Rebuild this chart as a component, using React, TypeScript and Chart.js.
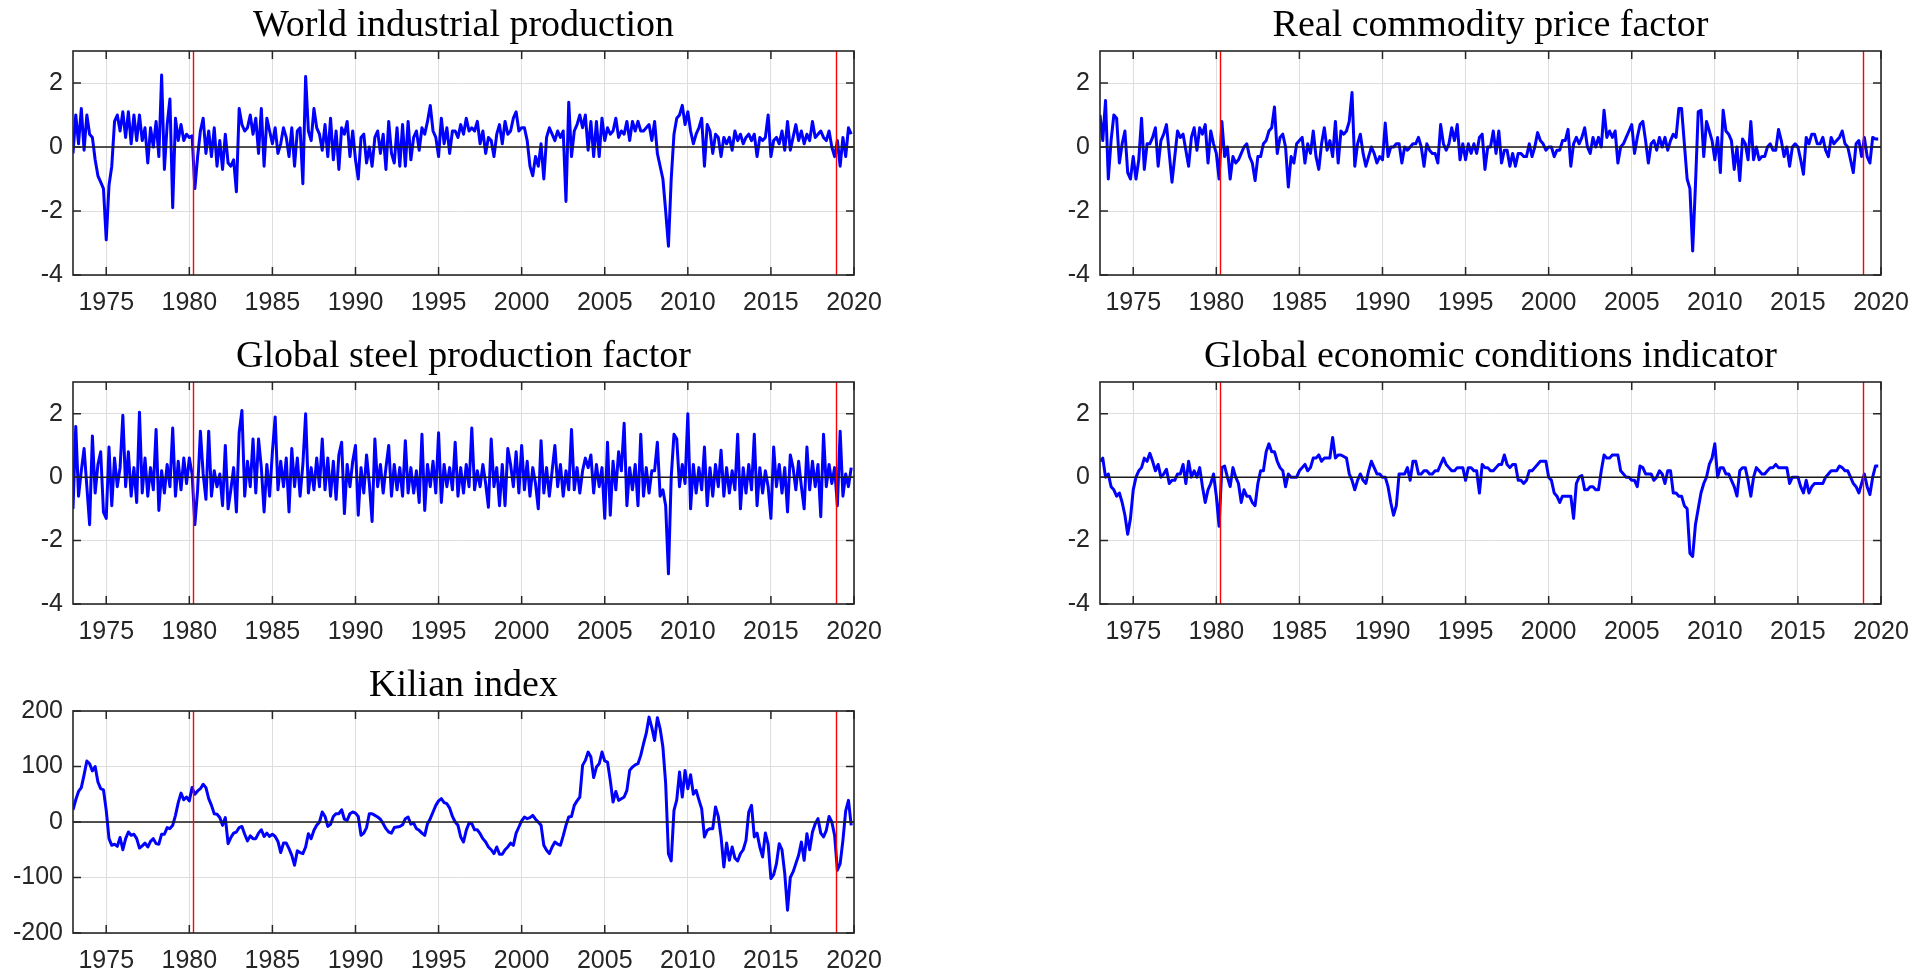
import React, { useEffect, useRef } from 'react';
import { Chart, registerables } from 'chart.js';

Chart.register(...registerables);

// ---- time axis: bimonthly observations starting January 1973 ----
const START_YEAR = 1973;
const POINTS_PER_YEAR = 6;
const X_MIN = 1973;
const X_MAX = 2020;
const X_TICKS = [1975, 1980, 1985, 1990, 1995, 2000, 2005, 2010, 2015, 2020];
const FACTOR_Y_TICKS = [-4, -2, 0, 2];
const KILIAN_Y_TICKS = [-200, -100, 0, 100, 200];
const RED_LINES = [1980.25, 2018.92];

const TITLES = [
  'World industrial production',
  'Real commodity price factor',
  'Global steel production factor',
  'Global economic conditions indicator',
  'Kilian index',
];

const WORLD_IP = [
  -0.2, 1.0, 0.1, 1.2, -0.1, 1.0, // 1973
  0.4, 0.3, -0.4, -0.9, -1.1, -1.3, // 1974
  -2.9, -1.2, -0.6, 0.8, 1.0, 0.5, // 1975
  1.1, 0.3, 1.1, 0.1, 1.0, 0.2, // 1976
  1.0, 0.2, 0.6, -0.5, 0.6, 0.0, // 1977
  0.8, -0.3, 2.25, -0.7, 0.7, 1.5, // 1978
  -1.9, 0.9, 0.2, 0.7, 0.2, 0.4, // 1979
  0.3, 0.35, -1.3, -0.3, 0.5, 0.9, // 1980
  -0.2, 0.5, -0.3, 0.6, -0.6, 0.2, // 1981
  -0.7, 0.4, -0.5, -0.6, -0.4, -1.4, // 1982
  1.2, 0.7, 0.5, 0.6, 1.0, 0.4, // 1983
  0.9, -0.2, 1.2, -0.6, 0.9, 0.5, // 1984
  0.1, 0.6, -0.2, 0.1, 0.6, 0.3, // 1985
  -0.3, 0.6, -0.6, 0.5, 0.6, -1.15, // 1986
  2.2, 0.5, 0.2, 1.2, 0.6, 0.4, // 1987
  -0.1, 0.7, -0.3, 0.9, -0.4, 0.5, // 1988
  -0.7, 0.6, 0.4, 0.8, -0.3, 0.5, // 1989
  -0.4, -1.0, 0.3, 0.4, -0.5, 0.0, // 1990
  -0.6, 0.3, 0.5, -0.2, 0.4, -0.7, // 1991
  0.8, -0.2, -0.5, 0.6, -0.6, 0.7, // 1992
  -0.6, 0.8, -0.4, 0.3, 0.5, -0.1, // 1993
  0.6, 0.4, 0.8, 1.3, 0.5, 0.3, // 1994
  -0.3, 0.9, 0.1, 0.6, -0.2, 0.5, // 1995
  0.5, 0.3, 0.7, 0.4, 0.9, 0.5, // 1996
  0.6, 0.5, 0.8, 0.1, 0.5, -0.2, // 1997
  0.3, 0.2, -0.3, 0.4, 0.7, 0.1, // 1998
  0.8, 0.4, 0.5, 0.9, 1.1, 0.5, // 1999
  0.6, 0.6, 0.2, -0.6, -0.9, -0.3, // 2000
  -0.6, 0.1, -1.0, 0.3, 0.6, 0.4, // 2001
  0.2, 0.5, 0.3, 0.5, -1.7, 1.4, // 2002
  -0.3, 0.5, 0.7, 1.0, 0.6, 1.0, // 2003
  -0.1, 0.8, -0.3, 0.8, -0.3, 0.9, // 2004
  0.2, 0.6, 0.4, 0.5, 0.9, 0.3, // 2005
  0.5, 0.4, 0.8, 0.2, 0.8, 0.5, // 2006
  0.8, 0.5, 0.5, 0.6, 0.7, 0.2, // 2007
  0.8, -0.2, -0.6, -1.0, -2.0, -3.1, // 2008
  -1.0, 0.4, 0.9, 1.0, 1.3, 0.7, // 2009
  1.1, 0.5, 0.1, 0.4, 0.6, 0.9, // 2010
  -0.6, 0.7, 0.5, -0.2, 0.4, 0.3, // 2011
  -0.3, 0.3, 0.1, 0.3, -0.1, 0.5, // 2012
  0.2, 0.4, 0.1, 0.3, 0.4, 0.2, // 2013
  0.4, -0.3, 0.3, 0.2, 0.3, 1.0, // 2014
  -0.3, 0.2, 0.3, 0.1, 0.5, -0.1, // 2015
  0.8, -0.1, 0.3, 0.7, 0.2, 0.5, // 2016
  0.1, 0.4, 0.2, 0.8, 0.3, 0.4, // 2017
  0.5, 0.3, 0.2, 0.5, 0.0, -0.3, // 2018
  0.2, -0.6, 0.3, -0.3, 0.6, 0.4, // 2019
];

const COMMODITY = [
  1.0, 0.2, 1.45, -1.0, 0.2, 1.0, // 1973
  0.9, -0.5, 0.1, 0.5, -0.8, -1.0, // 1974
  -0.3, -1.0, -0.4, 0.9, -0.7, 0.1, // 1975
  0.1, 0.3, 0.6, -0.6, 0.2, 0.4, // 1976
  0.7, -0.2, -1.1, -0.3, 0.5, 0.3, // 1977
  0.4, -0.1, -0.6, 0.3, 0.6, -0.1, // 1978
  0.6, 0.4, 0.7, -0.5, 0.5, 0.1, // 1979
  -0.2, -1.0, 0.8, -0.3, 0.0, -1.0, // 1980
  -0.3, -0.5, -0.4, -0.2, 0.0, 0.1, // 1981
  -0.3, -0.5, -1.05, -0.3, -0.3, 0.1, // 1982
  0.2, 0.5, 0.6, 1.25, -0.2, 0.3, // 1983
  0.4, 0.0, -1.25, -0.3, -0.5, 0.1, // 1984
  0.2, 0.3, -0.5, 0.1, -0.2, 0.5, // 1985
  -0.3, -0.7, 0.1, 0.6, -0.1, 0.2, // 1986
  -0.3, 0.8, -0.5, 0.5, 0.4, 0.5, // 1987
  0.8, 1.7, -0.6, 0.1, 0.4, -0.2, // 1988
  -0.6, -0.3, 0.0, -0.2, -0.5, -0.3, // 1989
  -0.4, 0.75, -0.3, 0.0, 0.0, 0.1, // 1990
  0.1, -0.5, 0.0, -0.1, 0.0, 0.1, // 1991
  0.1, 0.3, 0.0, -0.6, 0.1, -0.1, // 1992
  -0.2, -0.2, -0.5, 0.7, 0.1, -0.1, // 1993
  0.1, 0.6, 0.2, 0.7, -0.4, 0.1, // 1994
  -0.4, 0.1, -0.2, 0.1, -0.2, 0.3, // 1995
  0.4, -0.7, 0.0, 0.0, 0.5, -0.2, // 1996
  0.5, -0.5, -0.1, -0.1, -0.6, -0.2, // 1997
  -0.6, -0.2, -0.2, -0.3, -0.3, 0.1, // 1998
  -0.3, 0.0, 0.45, 0.2, 0.1, -0.1, // 1999
  0.0, 0.0, -0.3, -0.1, -0.1, 0.2, // 2000
  0.2, 0.55, -0.6, 0.1, 0.3, 0.1, // 2001
  0.3, 0.6, 0.0, -0.2, 0.3, 0.0, // 2002
  0.3, 0.0, 1.15, 0.3, 0.5, 0.3, // 2003
  0.5, -0.5, 0.0, 0.1, 0.3, 0.5, // 2004
  0.7, -0.2, 0.3, 0.7, 0.8, 0.2, // 2005
  -0.5, 0.1, 0.2, -0.1, 0.3, 0.0, // 2006
  0.3, -0.1, 0.2, 0.4, 0.3, 1.2, // 2007
  1.2, 0.1, -1.0, -1.3, -3.25, -1.2, // 2008
  1.1, 1.15, -0.3, 0.8, 0.5, 0.2, // 2009
  -0.4, 0.3, -0.8, 1.15, 0.5, 0.4, // 2010
  0.2, -0.7, 0.0, -1.05, 0.25, 0.1, // 2011
  -0.4, 0.8, -0.4, 0.0, -0.4, -0.3, // 2012
  -0.3, 0.0, 0.1, -0.1, -0.1, 0.55, // 2013
  0.2, -0.3, 0.0, -0.6, 0.0, 0.1, // 2014
  0.0, -0.4, -0.85, 0.3, 0.1, 0.4, // 2015
  0.4, 0.1, 0.1, 0.3, -0.1, -0.3, // 2016
  0.3, 0.1, 0.2, 0.3, 0.5, 0.1, // 2017
  0.0, -0.4, -0.8, 0.1, 0.2, -0.3, // 2018
  0.3, -0.3, -0.5, 0.3, 0.25, 0.25, // 2019
];

const STEEL = [
  -1.0, 1.6, -0.6, 0.2, 0.9, -0.3, // 1973
  -1.5, 1.3, -0.5, 0.4, 0.8, -1.1, // 1974
  -1.3, 0.95, -0.9, 0.6, -0.3, 0.3, // 1975
  1.95, -0.3, 0.8, -0.6, 0.3, -0.8, // 1976
  2.05, -0.5, 0.6, -0.6, 0.3, -0.4, // 1977
  1.5, -1.05, 0.2, -0.5, 0.4, -0.3, // 1978
  1.55, -0.6, 0.5, -0.4, 0.6, -0.2, // 1979
  0.6, 0.1, -1.5, -0.4, 1.45, 0.1, // 1980
  -0.7, 1.45, -0.6, 0.2, -0.3, 0.1, // 1981
  -0.9, 1.0, -1.0, -0.4, 0.3, -1.1, // 1982
  1.4, 2.1, -0.6, 0.5, -0.3, 1.2, // 1983
  -0.5, 1.2, 0.3, -1.1, 0.4, -0.6, // 1984
  0.8, 1.9, -0.4, 0.5, -0.3, 0.6, // 1985
  -1.1, 0.9, -0.3, 0.6, -0.6, 0.4, // 1986
  2.0, -0.5, 0.3, -0.4, 0.6, -0.3, // 1987
  1.2, -0.4, 0.6, -0.6, 0.5, -0.7, // 1988
  0.7, 1.1, -1.15, 0.4, -0.3, 0.5, // 1989
  1.0, -1.2, 0.3, -0.5, 0.7, -0.2, // 1990
  -1.4, 1.2, -0.3, 0.4, -0.5, 0.3, // 1991
  1.0, -0.6, 0.4, -0.4, 0.3, -0.6, // 1992
  1.15, -0.5, 0.3, -0.5, 0.2, -0.8, // 1993
  1.35, -1.05, 0.4, -0.3, 0.5, -0.5, // 1994
  1.4, -0.8, 0.4, -0.3, 0.3, -0.4, // 1995
  1.1, -0.6, 0.3, -0.5, 0.4, -0.3, // 1996
  1.55, -0.4, 0.2, -0.3, 0.4, -0.2, // 1997
  -0.95, 1.2, -0.3, 0.3, -0.9, 0.4, // 1998
  -0.9, 0.9, 0.4, -0.3, 0.8, -0.5, // 1999
  1.0, -0.4, 0.5, -0.6, 0.3, -0.2, // 2000
  -1.0, 1.15, -0.5, 0.3, -0.6, 0.2, // 2001
  1.0, -0.3, 0.4, -0.6, 0.2, -0.4, // 2002
  1.5, -0.4, 0.3, -0.5, 0.2, 0.6, // 2003
  0.3, 0.7, -0.5, 0.4, -0.3, 0.3, // 2004
  -1.3, 1.1, -1.2, 0.5, -0.4, 0.8, // 2005
  0.2, 1.7, -0.9, 0.3, -0.4, 0.4, // 2006
  -0.9, 1.35, -0.6, 0.3, -0.5, 0.2, // 2007
  0.2, 1.1, -0.6, -0.4, -0.9, -3.05, // 2008
  0.0, 1.35, 1.2, -0.3, 0.4, -0.2, // 2009
  2.0, -1.0, 0.4, -0.5, 0.3, -0.4, // 2010
  0.95, -0.9, 0.3, -0.6, 0.4, -0.3, // 2011
  0.85, -0.6, 0.3, -0.5, 0.2, -0.4, // 2012
  1.35, -1.0, 0.3, -0.5, 0.4, -0.4, // 2013
  1.35, -0.9, 0.3, -0.5, 0.2, -0.3, // 2014
  -1.3, 0.95, -0.3, 0.4, -0.5, 0.3, // 2015
  -1.1, 0.7, 0.3, -0.4, 0.5, -0.3, // 2016
  -1.0, 0.95, -0.4, 0.5, -0.3, 0.4, // 2017
  -1.25, 1.35, -0.3, 0.4, -0.2, 0.3, // 2018
  -0.9, 1.45, -0.6, 0.1, -0.3, 0.3, // 2019
];

const GECON = [
  0.5, 0.6, 0.0, 0.1, -0.3, -0.4, // 1973
  -0.6, -0.5, -0.8, -1.2, -1.8, -1.3, // 1974
  -0.4, 0.0, 0.2, 0.3, 0.6, 0.5, // 1975
  0.75, 0.5, 0.2, 0.4, 0.0, 0.1, // 1976
  0.25, -0.2, -0.1, -0.1, 0.1, 0.1, // 1977
  0.4, -0.2, 0.5, 0.0, 0.2, 0.0, // 1978
  0.3, -0.3, -0.8, -0.4, -0.2, 0.1, // 1979
  -0.6, -1.55, 0.3, 0.35, 0.0, -0.3, // 1980
  0.3, 0.0, -0.2, -0.8, -0.4, -0.6, // 1981
  -0.6, -0.8, -0.9, -0.2, 0.2, 0.2, // 1982
  0.8, 1.05, 0.8, 0.8, 0.5, 0.3, // 1983
  0.2, -0.3, 0.1, 0.0, 0.0, 0.0, // 1984
  0.2, 0.3, 0.4, 0.2, 0.3, 0.6, // 1985
  0.6, 0.7, 0.5, 0.6, 0.6, 0.6, // 1986
  1.25, 0.6, 0.7, 0.7, 0.65, 0.6, // 1987
  0.1, -0.1, -0.4, -0.1, 0.1, -0.1, // 1988
  -0.2, 0.2, 0.5, 0.3, 0.1, 0.1, // 1989
  0.0, 0.0, -0.3, -0.8, -1.2, -0.9, // 1990
  0.1, 0.1, 0.1, 0.3, -0.1, 0.5, // 1991
  0.5, 0.1, 0.1, 0.2, 0.2, 0.1, // 1992
  0.1, 0.2, 0.2, 0.4, 0.6, 0.4, // 1993
  0.3, 0.2, 0.2, 0.3, 0.3, 0.3, // 1994
  -0.1, 0.3, 0.3, 0.2, 0.2, -0.5, // 1995
  0.4, 0.3, 0.3, 0.2, 0.2, 0.3, // 1996
  0.4, 0.4, 0.7, 0.4, 0.3, 0.4, // 1997
  0.4, -0.1, -0.1, -0.2, -0.1, 0.2, // 1998
  0.2, 0.3, 0.4, 0.5, 0.5, 0.5, // 1999
  0.0, -0.1, -0.5, -0.6, -0.8, -0.6, // 2000
  -0.6, -0.6, -0.6, -1.3, -0.2, 0.0, // 2001
  0.05, -0.4, -0.4, -0.3, -0.3, -0.4, // 2002
  -0.4, 0.2, 0.7, 0.6, 0.6, 0.7, // 2003
  0.7, 0.7, 0.2, 0.1, 0.0, 0.0, // 2004
  -0.1, -0.1, -0.3, 0.35, 0.3, 0.1, // 2005
  0.1, 0.1, -0.1, 0.0, 0.2, 0.1, // 2006
  -0.2, 0.2, 0.2, -0.5, -0.5, -0.6, // 2007
  -0.6, -0.9, -1.0, -2.4, -2.5, -1.5, // 2008
  -1.0, -0.5, -0.2, 0.0, 0.4, 0.6, // 2009
  1.05, 0.0, 0.3, 0.3, 0.1, 0.1, // 2010
  -0.1, -0.3, -0.6, 0.2, 0.3, 0.3, // 2011
  -0.1, -0.6, 0.0, 0.3, 0.2, 0.1, // 2012
  0.1, 0.2, 0.3, 0.3, 0.4, 0.3, // 2013
  0.3, 0.3, 0.3, -0.2, 0.0, 0.0, // 2014
  0.0, -0.3, -0.5, -0.1, -0.5, -0.3, // 2015
  -0.2, -0.2, -0.2, -0.2, 0.0, 0.1, // 2016
  0.2, 0.2, 0.2, 0.35, 0.3, 0.2, // 2017
  0.2, 0.0, -0.2, -0.3, -0.5, -0.2, // 2018
  0.1, -0.3, -0.55, 0.0, 0.35, 0.35, // 2019
];

const KILIAN = [
  22, 40, 55, 62, 85, 110, // 1973
  105, 92, 100, 72, 60, 58, // 1974
  21, -30, -42, -40, -44, -28, // 1975
  -50, -30, -18, -24, -22, -30, // 1976
  -47, -43, -38, -45, -35, -30, // 1977
  -39, -40, -22, -22, -10, -12, // 1978
  -6, 12, 35, 52, 40, 45, // 1979
  38, 62, 50, 56, 60, 68, // 1980
  62, 42, 30, 15, 14, 8, // 1981
  -6, 8, -39, -28, -20, -18, // 1982
  -10, -8, -22, -34, -25, -30, // 1983
  -30, -20, -14, -26, -20, -26, // 1984
  -22, -26, -35, -55, -38, -38, // 1985
  -48, -60, -78, -52, -55, -57, // 1986
  -45, -21, -30, -15, -6, 0, // 1987
  18, 10, -8, -4, 10, 15, // 1988
  15, 22, 5, 3, 15, 18, // 1989
  16, 10, -24, -20, -10, 15, // 1990
  15, 12, 9, 5, -3, -12, // 1991
  -18, -20, -10, -9, -8, -5, // 1992
  6, 9, -4, -2, -12, -15, // 1993
  -20, -24, -3, 6, 18, 30, // 1994
  38, 42, 35, 33, 25, 10, // 1995
  0, -6, -27, -36, -15, -2, // 1996
  -3, -14, -14, -21, -30, -36, // 1997
  -45, -50, -57, -45, -58, -58, // 1998
  -50, -45, -38, -42, -20, -9, // 1999
  2, 9, 6, 8, 12, 5, // 2000
  0, -6, -42, -51, -57, -45, // 2001
  -36, -40, -42, -25, -6, 9, // 2002
  10, 30, 38, 45, 102, 111, // 2003
  126, 117, 80, 99, 105, 126, // 2004
  110, 108, 75, 36, 55, 39, // 2005
  42, 45, 57, 93, 99, 103, // 2006
  105, 120, 141, 160, 189, 170, // 2007
  147, 188, 168, 135, 69, -57, // 2008
  -70, 21, 40, 90, 45, 93, // 2009
  60, 85, 50, 57, 40, 24, // 2010
  -27, -15, -12, -12, 27, 10, // 2011
  -27, -81, -38, -69, -45, -65, // 2012
  -70, -57, -50, -33, 18, 30, // 2013
  -27, -20, -45, -63, -20, -40, // 2014
  -102, -95, -75, -39, -50, -93, // 2015
  -159, -100, -90, -75, -60, -36, // 2016
  -69, -21, -50, -18, -3, 6, // 2017
  -20, -27, -15, 10, 0, -24, // 2018
  -87, -75, -33, 20, 39, -6, // 2019
];

const DATES = Array.from({ length: WORLD_IP.length }, (_, i) => START_YEAR + i / POINTS_PER_YEAR);

const SERIF = "'Liberation Serif', 'Times New Roman', serif";
const SANS = "'Liberation Sans', Arial, Helvetica, sans-serif";
const GRID_COLOR = '#dedede';
const AXIS_COLOR = '#262626';

// MATLAB-style box: frame, inward tick marks, zero line and red marker lines
const boxPlugin = {
  id: 'matlabBox',
  afterDatasetsDraw(chart: any, _args: any, opts: any) {
    const { ctx, chartArea: a, scales } = chart;
    const x = scales.x;
    const y = scales.y;
    ctx.save();
    const y0 = y.getPixelForValue(0);
    ctx.strokeStyle = '#1a1a1a';
    ctx.lineWidth = 1.5;
    ctx.beginPath();
    ctx.moveTo(a.left, y0);
    ctx.lineTo(a.right, y0);
    ctx.stroke();
    ctx.strokeStyle = '#ff0000';
    ctx.lineWidth = 1.4;
    (opts.redLines || []).forEach((v: number) => {
      const px = Math.round(x.getPixelForValue(v)) + 0.5;
      ctx.beginPath();
      ctx.moveTo(px, a.top);
      ctx.lineTo(px, a.bottom);
      ctx.stroke();
    });
    const tl = 8;
    ctx.strokeStyle = AXIS_COLOR;
    ctx.lineWidth = 1.5;
    ctx.beginPath();
    x.ticks.forEach((t: any) => {
      const px = x.getPixelForValue(t.value);
      ctx.moveTo(px, a.bottom);
      ctx.lineTo(px, a.bottom - tl);
      ctx.moveTo(px, a.top);
      ctx.lineTo(px, a.top + tl);
    });
    y.ticks.forEach((t: any) => {
      const py = y.getPixelForValue(t.value);
      ctx.moveTo(a.left, py);
      ctx.lineTo(a.left + tl, py);
      ctx.moveTo(a.right, py);
      ctx.lineTo(a.right - tl, py);
    });
    ctx.stroke();
    ctx.lineWidth = 1.6;
    ctx.strokeRect(a.left, a.top, a.right - a.left, a.bottom - a.top);
    ctx.restore();
  },
};

type PanelSpec = {
  title: string;
  values: number[];
  yMin: number;
  yMax: number;
  yTicks: number[];
  left: number;
  top: number;
  width: number;
  height: number;
  yAxisWidth: number;
  padRight: number;
  padBottom: number;
};

function Panel({ spec }: { spec: PanelSpec }) {
  const ref = useRef<HTMLCanvasElement | null>(null);
  useEffect(() => {
    if (!ref.current) return;
    const chart = new Chart(ref.current, {
      type: 'line',
      data: {
        datasets: [
          {
            data: spec.values.map((v, i) => ({ x: DATES[i], y: v })),
            borderColor: '#0000ff',
            borderWidth: 3,
            pointRadius: 0,
            tension: 0,
            fill: false,
            borderJoinStyle: 'round',
          },
        ],
      },
      options: {
        responsive: false,
        animation: false,
        devicePixelRatio: 1,
        layout: { padding: { left: 0, right: spec.padRight, top: 0, bottom: spec.padBottom } },
        plugins: {
          legend: { display: false },
          tooltip: { enabled: false },
          title: {
            display: true,
            text: spec.title,
            color: '#000',
            fullSize: false,
            font: { family: SERIF, size: 38, weight: 'normal' },
            padding: { top: 3, bottom: 2.4 },
          },
          matlabBox: { redLines: RED_LINES },
        } as any,
        scales: {
          x: {
            type: 'linear',
            min: X_MIN,
            max: X_MAX,
            afterBuildTicks: (s: any) => {
              s.ticks = X_TICKS.map((v) => ({ value: v }));
            },
            afterFit: (s: any) => {
              s.height = 40;
            },
            grid: { color: GRID_COLOR, lineWidth: 1, drawTicks: false, tickLength: 0 },
            border: { display: false },
            ticks: {
              autoSkip: false,
              maxRotation: 0,
              padding: 13,
              color: AXIS_COLOR,
              font: { family: SANS, size: 25 },
              callback: (v: any) => String(v),
            },
          },
          y: {
            type: 'linear',
            min: spec.yMin,
            max: spec.yMax,
            afterBuildTicks: (s: any) => {
              s.ticks = spec.yTicks.map((v) => ({ value: v }));
            },
            afterFit: (s: any) => {
              s.width = spec.yAxisWidth;
            },
            grid: { color: GRID_COLOR, lineWidth: 1, drawTicks: false, tickLength: 0 },
            border: { display: false },
            ticks: {
              padding: 10,
              color: AXIS_COLOR,
              font: { family: SANS, size: 25 },
              callback: (v: any) => String(v),
            },
          },
        },
      } as any,
      plugins: [boxPlugin],
    });
    return () => chart.destroy();
  }, [spec]);
  return (
    <canvas
      ref={ref}
      width={spec.width}
      height={spec.height}
      style={{ position: 'absolute', left: spec.left, top: spec.top, width: spec.width, height: spec.height }}
    />
  );
}

const LEFT = { left: 0, width: 920, yAxisWidth: 73, padRight: 66 };
const RIGHT = { left: 1000, width: 932, yAxisWidth: 100, padRight: 51 };

const PANELS: PanelSpec[] = [
  { title: TITLES[0], values: WORLD_IP, yMin: -4, yMax: 3, yTicks: FACTOR_Y_TICKS, ...LEFT, top: 0, height: 320, padBottom: 5 },
  { title: TITLES[1], values: COMMODITY, yMin: -4, yMax: 3, yTicks: FACTOR_Y_TICKS, ...RIGHT, top: 0, height: 320, padBottom: 5 },
  { title: TITLES[2], values: STEEL, yMin: -4, yMax: 3, yTicks: FACTOR_Y_TICKS, ...LEFT, top: 331, height: 320, padBottom: 7 },
  { title: TITLES[3], values: GECON, yMin: -4, yMax: 3, yTicks: FACTOR_Y_TICKS, ...RIGHT, top: 331, height: 320, padBottom: 7 },
  { title: TITLES[4], values: KILIAN, yMin: -200, yMax: 200, yTicks: KILIAN_Y_TICKS, ...LEFT, top: 660, height: 313, padBottom: 0 },
];

export default function App() {
  return (
    <div
      style={{
        position: 'fixed',
        left: 0,
        top: 0,
        width: 1932,
        height: 973,
        background: '#ffffff',
        overflow: 'hidden',
      }}
    >
      {PANELS.map((p) => (
        <Panel key={p.title} spec={p} />
      ))}
    </div>
  );
}
